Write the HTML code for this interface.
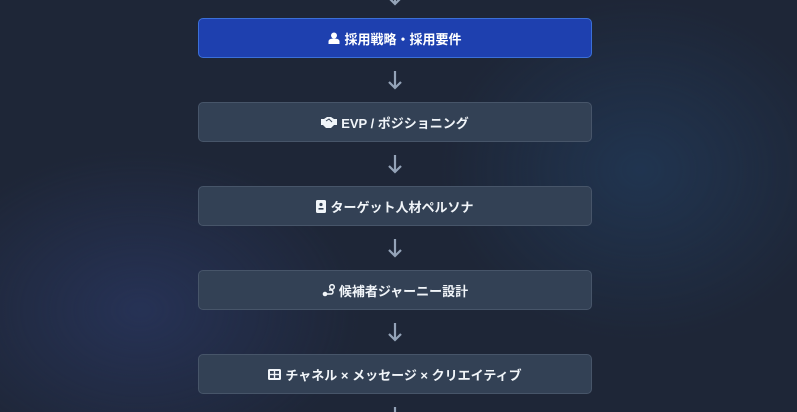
<!DOCTYPE html>
<html><head><meta charset="utf-8"><style>
html,body{margin:0;width:797px;height:412px;overflow:hidden}
body{position:relative;font-family:"Liberation Sans","Noto Sans CJK JP",sans-serif;
background:radial-gradient(ellipse 220px 160px at 140px 310px,rgba(45,60,110,.55),transparent),radial-gradient(ellipse 200px 170px at 640px 170px,rgba(35,70,110,.45),transparent),#1e2637;}
.b{position:absolute;left:198px;width:392px;height:38px;border:1px solid #475569;border-radius:5px;background:#334155;color:#f1f5f9;font-weight:bold;font-size:13px;display:flex;align-items:center;justify-content:center;gap:4px}
.blue{background:#1e40af;border-color:#3b6fd8;color:#fff}
.a{position:absolute;left:387px;width:16px;height:20px}
</style></head><body>
<svg class="a" style="top:-14px" viewBox="0 0 16 20"><path d="M8 1v17M2 12l6 6 6-6" stroke="#94a3b8" stroke-width="2.2" fill="none"/></svg>
<div class="b blue" style="top:18px"><svg width="12" height="12" viewBox="0 0 12 12"><circle cx="6" cy="3.5" r="3" fill="#fff"/><path d="M0.5 12v-2.5c0-2 2-3 5.5-3s5.5 1 5.5 3V12z" fill="#fff"/></svg>採用戦略・採用要件</div>
<svg class="a" style="top:70px" viewBox="0 0 16 20"><path d="M8 1v17M2 12l6 6 6-6" stroke="#94a3b8" stroke-width="2.2" fill="none"/></svg>
<div class="b" style="top:102px"><svg width="16" height="11" viewBox="0 0 16 11"><path d="M0 2h3l3-2h4l3 2h3v6h-3l-3 3h-5l-3-3H0z" fill="#f1f5f9"/><path d="M5 4l3-2 3 3" stroke="#334155" fill="none"/></svg>EVP / ポジショニング</div>
<svg class="a" style="top:154px" viewBox="0 0 16 20"><path d="M8 1v17M2 12l6 6 6-6" stroke="#94a3b8" stroke-width="2.2" fill="none"/></svg>
<div class="b" style="top:186px"><svg width="10" height="13" viewBox="0 0 10 13"><rect width="10" height="13" rx="1.5" fill="#f1f5f9"/><circle cx="5" cy="4.5" r="1.6" fill="#334155"/><rect x="2.5" y="8" width="5" height="1.6" fill="#334155"/></svg>ターゲット人材ペルソナ</div>
<svg class="a" style="top:238px" viewBox="0 0 16 20"><path d="M8 1v17M2 12l6 6 6-6" stroke="#94a3b8" stroke-width="2.2" fill="none"/></svg>
<div class="b" style="top:270px"><svg width="13" height="13" viewBox="0 0 13 13"><circle cx="3" cy="10" r="2.3" fill="#f1f5f9"/><circle cx="10" cy="3" r="2.3" fill="none" stroke="#f1f5f9" stroke-width="1.5"/><path d="M5 10h4a2 2 0 0 0 0-4H7" stroke="#f1f5f9" stroke-width="1.5" fill="none"/></svg>候補者ジャーニー設計</div>
<svg class="a" style="top:322px" viewBox="0 0 16 20"><path d="M8 1v17M2 12l6 6 6-6" stroke="#94a3b8" stroke-width="2.2" fill="none"/></svg>
<div class="b" style="top:354px"><svg width="13" height="11" viewBox="0 0 13 11"><rect width="13" height="11" rx="1.5" fill="#f1f5f9"/><rect x="2" y="2" width="3.8" height="2.8" fill="#334155"/><rect x="7.2" y="2" width="3.8" height="2.8" fill="#334155"/><rect x="2" y="6.2" width="3.8" height="2.8" fill="#334155"/><rect x="7.2" y="6.2" width="3.8" height="2.8" fill="#334155"/></svg>チャネル × メッセージ × クリエイティブ</div>
<svg class="a" style="top:406px" viewBox="0 0 16 20"><path d="M8 1v17M2 12l6 6 6-6" stroke="#94a3b8" stroke-width="2.2" fill="none"/></svg>
</body></html>
